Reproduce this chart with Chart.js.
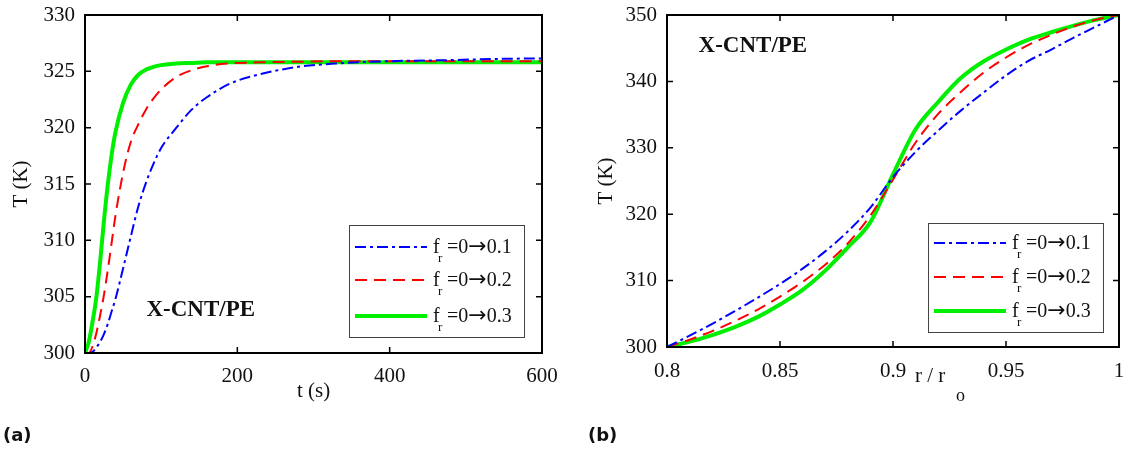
<!DOCTYPE html>
<html>
<head>
<meta charset="utf-8">
<script src="https://cdn.jsdelivr.net/npm/chart.js@4.4.0/dist/chart.umd.min.js"></script>
<style>
  body { margin: 0; background: #fff; }
  #wrap { position: relative; width: 1126px; height: 451px; overflow: hidden; }
  canvas { position: absolute; top: 0; }
</style>
</head>
<body>
<div id="wrap">
  <canvas id="cnv_time" width="565" height="451" style="left:0px"></canvas>
  <canvas id="cnv_radius" width="551" height="451" style="left:575px"></canvas>
</div>
<script>
// ---- data ----
// (a) temperature vs time
const timeSec = [0, 5, 10, 15, 20, 25, 30, 35, 40, 50, 60, 70, 80, 90, 100, 120, 140, 160, 190, 230, 280, 330, 400, 480, 540, 600]
const tempTime01 = [300, 300, 300.1, 300.5, 301.0, 301.7, 302.6, 303.7, 304.8, 307.5, 310.3, 313.0, 315.1, 316.8, 318.2, 320.0, 321.6, 322.7, 323.9, 324.75, 325.4, 325.7, 325.9, 326.0, 326.1, 326.15]
const tempTime02 = [300, 300, 300.6, 301.8, 303.4, 305.2, 307.4, 309.8, 312.2, 316.0, 318.7, 320.3, 321.6, 322.6, 323.4, 324.5, 325.1, 325.45, 325.7, 325.8, 325.85, 325.9, 325.9, 325.9, 325.9, 325.9]
const tempTime03 = [300, 301.0, 302.8, 305.0, 308.2, 311.8, 315.0, 317.6, 319.6, 322.2, 323.8, 324.7, 325.15, 325.4, 325.55, 325.7, 325.75, 325.8, 325.8, 325.8, 325.8, 325.8, 325.8, 325.8, 325.8, 325.8]

// (b) temperature vs radius
const radius = [0.80, 0.81, 0.82, 0.83, 0.84, 0.85, 0.86, 0.87, 0.88, 0.89, 0.90, 0.91, 0.92, 0.93, 0.94, 0.95, 0.96, 0.97, 0.98, 0.99, 1.00]
const tempRad01 = [300, 301.7, 303.5, 305.4, 307.4, 309.5, 311.8, 314.4, 317.4, 321.0, 325.6, 329.4, 332.6, 335.6, 338.3, 340.9, 343.1, 344.8, 346.6, 348.3, 350]
const tempRad02 = [300, 301.1, 302.4, 303.9, 305.6, 307.6, 309.8, 312.4, 315.6, 319.8, 325.2, 330.8, 335.1, 338.4, 341.3, 343.6, 345.5, 347.0, 348.3, 349.3, 350]
const tempRad03 = [300, 300.8, 301.8, 303.0, 304.5, 306.4, 308.6, 311.5, 315.0, 318.8, 326.0, 332.8, 336.9, 340.5, 343.0, 344.8, 346.3, 347.4, 348.4, 349.3, 350]

const fractions = ['0.1', '0.2', '0.3']
const timeTicks = [0, 200, 400, 600]
const tempTicksA = [300, 305, 310, 315, 320, 325, 330]
const radiusTicks = [0.8, 0.85, 0.9, 0.95, 1]
const tempTicksB = [300, 310, 320, 330, 340, 350]

const SERIF = '"Liberation Serif", "Times New Roman", serif'
const styles = [
    { borderColor: '#0000ff', borderWidth: 2, borderDash: [11, 4, 3, 4] },
    { borderColor: '#ff0000', borderWidth: 2, borderDash: [12, 7] },
    { borderColor: '#00ee00', borderWidth: 4, borderDash: [] }
]

const toPoints = (xs, ys) => xs.map((x, i) => ({ x: x, y: ys[i] }))

// draws the matlab style box, inner ticks, legend and extra texts
const figurePlugin = {
    id: 'figure',
    afterDraw(chart, args, opts) {
        const { ctx, chartArea: a, scales } = chart
        ctx.save()
        // inner ticks
        ctx.strokeStyle = '#000'
        ctx.lineWidth = 1.5
        const tl = 6
        scales.x.ticks.forEach(t => {
            const px = scales.x.getPixelForValue(t.value)
            ctx.beginPath()
            ctx.moveTo(px, a.bottom); ctx.lineTo(px, a.bottom - tl)
            ctx.moveTo(px, a.top); ctx.lineTo(px, a.top + tl)
            ctx.stroke()
        })
        scales.y.ticks.forEach(t => {
            const py = scales.y.getPixelForValue(t.value)
            ctx.beginPath()
            ctx.moveTo(a.left, py); ctx.lineTo(a.left + tl, py)
            ctx.moveTo(a.right, py); ctx.lineTo(a.right - tl, py)
            ctx.stroke()
        })
        ctx.lineWidth = 2
        ctx.strokeRect(a.left, a.top, a.right - a.left, a.bottom - a.top)

        // legend
        const lg = opts.legend
        ctx.lineWidth = 1
        ctx.strokeStyle = '#444'
        ctx.fillStyle = '#fff'
        ctx.fillRect(lg.x, lg.y, lg.w, lg.h)
        ctx.strokeRect(lg.x + 0.5, lg.y + 0.5, lg.w, lg.h)
        chart.data.datasets.forEach((ds, i) => {
            const ry = lg.y + lg.rows[i]
            ctx.strokeStyle = ds.borderColor
            ctx.lineWidth = ds.borderWidth
            ctx.setLineDash(ds.borderDash)
            ctx.beginPath()
            ctx.moveTo(lg.x + 6, ry); ctx.lineTo(lg.x + 78, ry)
            ctx.stroke()
            ctx.setLineDash([])
            ctx.fillStyle = '#111'
            ctx.textAlign = 'left'
            ctx.textBaseline = 'alphabetic'
            ctx.font = '20px ' + SERIF
            ctx.fillText('f', lg.x + 84, ry + 6)
            ctx.font = '13px ' + SERIF
            ctx.fillText('r', lg.x + 89, ry + 15)
            // pieces so the arrow can use a wider glyph
            let tx = lg.x + 98
            ctx.font = '20px ' + SERIF
            ctx.fillText('=0', tx, ry + 6)
            tx += ctx.measureText('=0').width
            ctx.font = '22px "DejaVu Sans", sans-serif'
            ctx.fillText('\u2192', tx, ry + 6)
            tx += ctx.measureText('\u2192').width
            ctx.font = '20px ' + SERIF
            ctx.fillText(fractions[i], tx, ry + 6)
        })

        // material label
        ctx.fillStyle = '#111'
        ctx.font = 'bold 23px ' + SERIF
        ctx.textAlign = 'center'
        ctx.textBaseline = 'middle'
        ctx.fillText('X-CNT/PE', scales.x.getPixelForValue(opts.tag.x), scales.y.getPixelForValue(opts.tag.y))

        // panel letter
        ctx.font = 'bold 18px "DejaVu Sans", sans-serif'
        ctx.textAlign = 'left'
        ctx.textBaseline = 'alphabetic'
        ctx.fillText(opts.panel.text, opts.panel.x, opts.panel.y)

        // x title with subscript (panel b)
        if (opts.xTitle) {
            const xt = opts.xTitle
            ctx.font = '21px ' + SERIF
            ctx.fillText('r / r', xt.x, xt.y)
            ctx.font = '18px ' + SERIF
            ctx.fillText('o', xt.x + 41, xt.y + 19)
        }
        ctx.restore()
    }
}

const tickFont = { family: SERIF, size: 21 }

const makeChart = (canvasId, cfg) => {
    const ctx = document.getElementById(canvasId).getContext('2d')
    const myChart = new Chart(ctx, {
        type: 'scatter',
        plugins: [figurePlugin],
        data: {
            datasets: cfg.series.map((ys, i) => ({
                label: 'f_r=0\u2192' + fractions[i],
                data: toPoints(cfg.xs, ys),
                showLine: true,
                pointRadius: 0,
                cubicInterpolationMode: 'monotone',
                borderColor: styles[i].borderColor,
                borderWidth: styles[i].borderWidth,
                borderDash: styles[i].borderDash,
                borderCapStyle: 'butt'
            }))
        },
        options: {
            responsive: false,
            animation: false,
            layout: { padding: { top: 15, right: cfg.padRight, left: 0, bottom: 0 } },
            plugins: {
                legend: { display: false },
                tooltip: { enabled: false },
                figure: cfg.figure
            },
            scales: {
                x: {
                    type: 'linear',
                    min: cfg.xTicks[0],
                    max: cfg.xTicks[cfg.xTicks.length - 1],
                    afterBuildTicks: s => { s.ticks = cfg.xTicks.map(v => ({ value: v })) },
                    afterFit: s => {
                        s.height = cfg.xHeight
                        s.paddingLeft = 0
                        s.paddingRight = 0
                    },
                    grid: { display: false, drawTicks: false },
                    border: { display: false },
                    ticks: { font: tickFont, color: '#111', padding: cfg.xPad, maxRotation: 0, autoSkip: false,
                        callback: v => String(+v.toFixed(2)) },
                    title: cfg.xTitle ? { display: true, text: cfg.xTitle, font: tickFont, color: '#111', padding: { top: 0, bottom: 47 } } : { display: false }
                },
                y: {
                    type: 'linear',
                    min: cfg.yTicks[0],
                    max: cfg.yTicks[cfg.yTicks.length - 1],
                    afterBuildTicks: s => { s.ticks = cfg.yTicks.map(v => ({ value: v })) },
                    afterFit: s => {
                        s.width = cfg.yWidth
                        s.paddingTop = 0
                        s.paddingBottom = 0
                    },
                    grid: { display: false, drawTicks: false },
                    border: { display: false },
                    ticks: { font: tickFont, color: '#111', padding: 10, autoSkip: false },
                    title: { display: true, text: 'T (K)', font: tickFont, color: '#111', padding: { top: cfg.yTitlePad, bottom: 0 } }
                }
            }
        }
    })
    return myChart
}

makeChart('cnv_time', {
    xs: timeSec,
    series: [tempTime01, tempTime02, tempTime03],
    xTicks: timeTicks,
    yTicks: tempTicksA,
    padRight: 23,
    xHeight: 98,
    yWidth: 85,
    xPad: 11,
    yTitlePad: 9,
    xTitle: 't (s)',
    figure: {
        legend: { x: 349, y: 225, w: 175, h: 112, rows: [22, 55, 91] },
        tag: { x: 152, y: 303.8 },
        panel: { text: '(a)', x: 3, y: 441 }
    }
})

makeChart('cnv_radius', {
    xs: radius,
    series: [tempRad01, tempRad02, tempRad03],
    xTicks: radiusTicks,
    yTicks: tempTicksB,
    padRight: 7,
    xHeight: 104,
    yWidth: 92,
    xPad: 12,
    yTitlePad: 19,
    xTitle: null,
    figure: {
        legend: { x: 353, y: 223, w: 175, h: 109, rows: [20, 54, 88] },
        tag: { x: 0.838, y: 345.3 },
        panel: { text: '(b)', x: 13, y: 441 },
        xTitle: { x: 340, y: 382 }
    }
})
</script>
</body>
</html>
